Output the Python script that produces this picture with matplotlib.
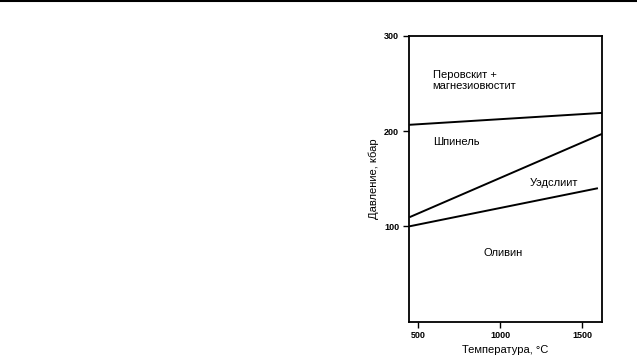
import matplotlib
matplotlib.use('Agg')
import matplotlib.pyplot as plt
from matplotlib.lines import Line2D

plt.rcParams['font.family'] = ['Liberation Sans', 'DejaVu Sans']

# phase boundaries (temperature, C -> pressure, kbar)
pv_t = [445, 1620]
pv_p = [206.5, 219]
sp_t = [445, 1620]
sp_p = [109.5, 197]
wd_t = [445, 1595]
wd_p = [100, 140]

region_labels = ['Перовскит +\nмагнезиовюстит', 'Шпинель', 'Уэдслиит', 'Оливин']
label_t = [588, 588, 1180, 1018]
label_p = [253, 188, 145, 72]
label_ha = ['left', 'left', 'left', 'center']

x_ticks = [500, 1000, 1500]
y_ticks = [100, 200, 300]

fig = plt.figure(figsize=(6.37, 3.58), dpi=100)
ax = fig.add_axes([0.642, 0.1014, 0.3026, 0.799])

for t, p in [(pv_t, pv_p), (sp_t, sp_p), (wd_t, wd_p)]:
    ax.plot(t, p, color='black', lw=1.4, solid_capstyle='butt')

for txt, t, p, ha in zip(region_labels, label_t, label_p, label_ha):
    ax.text(t, p, txt, ha=ha, va='center', fontsize=8, linespacing=1.05)

ax.set_xlim(443, 1618)
ax.set_ylim(0, 300)
ax.set_xticks(x_ticks)
ax.set_yticks(y_ticks)
ax.tick_params(labelsize=6.5, width=1, length=4, pad=3)
for lab in ax.get_xticklabels() + ax.get_yticklabels():
    lab.set_fontweight('bold')
for s in ax.spines.values():
    s.set_linewidth(1.3)

ax.set_xlabel('Температура, °C', fontsize=8, labelpad=3)
ax.set_ylabel('Давление, кбар', fontsize=8, labelpad=4)

# rule across the top of the page
fig.add_artist(Line2D([0, 1], [0.997, 0.997], color='black', lw=1.5, transform=fig.transFigure))

fig.savefig('out.png', dpi=100)
